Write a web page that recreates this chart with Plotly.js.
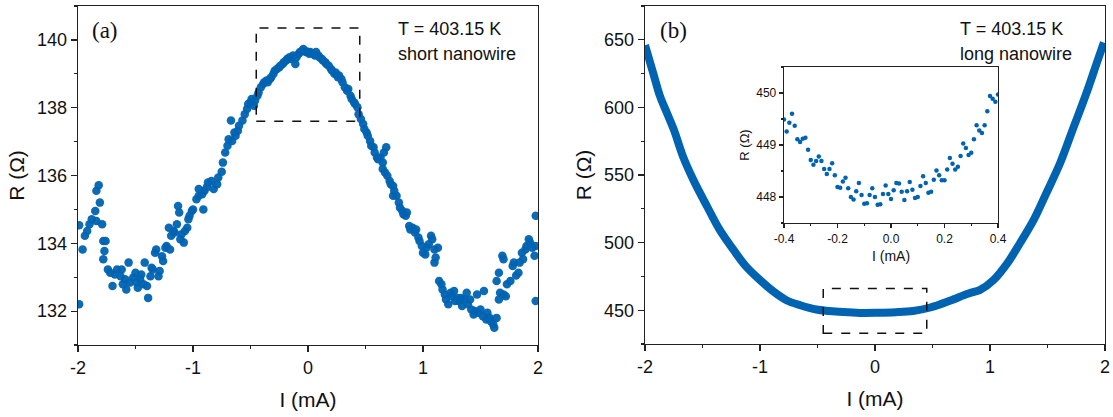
<!DOCTYPE html>
<html><head><meta charset="utf-8">
<script src="https://cdn.plot.ly/plotly-3.0.1.min.js"></script>
<style>html,body{margin:0;padding:0;background:#fff}#chart{width:1113px;height:417px}</style>
</head><body><div id="chart"></div>
<script>
// Panel (a): short nanowire, I (mA) vs R (Ohm)
const shortI = [-1.99,-1.99,-1.96,-1.94,-1.92,-1.90,-1.88,-1.85,-1.84,-1.84,-1.82,-1.81,-1.79,-1.78,-1.78,-1.77,-1.76,-1.74,-1.72,-1.70,-1.68,-1.66,-1.63,-1.62,-1.61,-1.59,-1.58,-1.56,-1.55,-1.52,-1.50,-1.49,-1.48,-1.46,-1.45,-1.43,-1.42,-1.40,-1.39,-1.37,-1.36,-1.35,-1.33,-1.32,-1.30,-1.29,-1.27,-1.26,-1.24,-1.23,-1.21,-1.20,-1.19,-1.17,-1.16,-1.14,-1.13,-1.12,-1.11,-1.10,-1.08,-1.07,-1.05,-1.04,-1.03,-1.01,-1.00,-0.97,-0.95,-0.95,-0.92,-0.91,-0.90,-0.88,-0.87,-0.84,-0.82,-0.79,-0.78,-0.75,
-0.74,-0.72,-0.70,-0.69,-0.67,-0.66,-0.64,-0.63,-0.61,-0.60,-0.57,-0.55,-0.53,-0.52,-0.50,-0.49,-0.47,-0.46,-0.44,-0.43,-0.41,-0.39,-0.38,-0.36,-0.35,-0.33,-0.32,-0.30,-0.29,-0.27,-0.25,-0.24,-0.22,-0.21,-0.19,-0.18,-0.16,-0.15,-0.13,-0.11,-0.10,-0.08,-0.07,-0.05,-0.04,-0.02,-0.01,
0.01,0.02,0.04,0.06,0.07,0.09,0.10,0.12,0.13,0.15,0.16,0.18,0.20,0.21,0.23,0.24,0.26,0.27,0.29,0.30,0.32,0.34,0.35,0.37,0.38,0.40,0.41,0.43,0.44,0.46,0.48,0.49,0.51,0.52,0.54,0.55,0.57,0.58,0.60,0.61,0.63,0.65,0.65,0.66,0.67,0.68,0.69,0.71,0.72,0.74,0.74,0.75,0.77,0.79,0.80,0.82,0.83,0.85,0.86,0.88,0.89,0.91,0.93,0.94,0.96,0.97,0.99,
1.00,1.02,1.03,1.05,1.07,1.08,1.10,1.10,1.11,1.13,1.14,1.16,1.17,1.19,1.20,1.22,1.24,1.25,1.27,1.28,1.30,1.31,1.33,1.34,1.36,1.38,1.39,1.41,1.42,1.44,1.45,1.47,1.48,1.50,1.52,1.53,1.55,1.56,1.58,1.59,1.61,1.62,1.64,1.64,1.66,1.66,1.67,1.69,1.70,1.70,1.72,1.73,1.76,1.78,1.79,1.81,1.83,1.84,1.86,1.87,1.89,1.90,1.92,1.93,1.95,1.97,1.98,1.98,1.98];
const shortR = [134.53,132.20,133.82,134.22,134.36,134.56,134.71,134.95,134.66,135.55,135.71,135.20,134.56,134.07,133.53,133.77,134.07,133.23,133.13,132.74,133.08,133.23,133.03,133.23,132.79,132.94,132.64,133.43,132.84,132.99,133.13,132.84,132.69,132.94,133.08,132.79,133.43,132.74,132.39,133.03,133.28,133.23,133.72,133.82,133.03,133.18,133.62,133.48,133.87,133.92,134.46,133.82,134.22,134.36,134.32,134.56,135.10,134.91,134.12,134.27,134.02,134.36,134.46,134.71,134.81,134.95,135.00,135.30,135.40,135.60,135.45,135.00,135.55,135.65,135.79,135.84,135.60,135.74,135.94,136.11,
136.38,136.68,136.88,137.07,137.62,137.02,137.27,137.17,137.32,137.47,137.62,137.81,137.96,138.11,138.16,138.26,138.06,138.21,138.35,138.45,138.60,138.70,138.75,138.80,138.75,138.85,138.90,139.00,139.09,139.14,139.19,139.24,139.29,139.34,139.39,139.44,139.49,139.44,139.54,139.29,139.49,139.59,139.64,139.68,139.73,139.64,139.66,
139.59,139.64,139.59,139.54,139.64,139.54,139.49,139.44,139.39,139.34,139.29,139.24,139.14,139.09,139.00,139.04,138.90,138.95,138.85,138.75,138.60,138.50,138.55,138.35,138.26,138.16,138.11,138.01,137.81,137.67,137.52,137.37,137.27,137.17,137.02,136.88,136.83,136.68,136.53,136.48,136.53,136.38,136.19,136.68,136.09,136.83,135.99,135.84,135.74,135.69,135.40,135.55,135.40,135.20,135.05,134.96,134.86,134.81,134.91,134.51,134.41,134.46,134.32,134.41,134.17,134.07,133.92,
133.72,133.67,133.87,133.97,134.22,134.12,133.82,133.43,133.58,133.87,132.89,132.79,132.64,132.49,132.34,132.20,132.54,132.44,132.59,132.30,132.39,132.30,132.39,132.15,132.34,132.54,132.20,132.34,132.05,131.90,132.00,132.49,131.95,132.05,131.85,132.59,131.75,131.95,131.80,131.70,131.61,131.51,131.80,132.89,133.13,132.34,132.54,133.63,133.53,132.49,132.44,132.79,132.89,133.33,133.43,133.05,133.13,133.43,133.72,133.53,133.82,133.92,134.12,134.02,133.87,133.63,133.92,134.81,132.30];

// Panel (b): long nanowire
const longI = [-2.00,-1.93,-1.87,-1.81,-1.75,-1.67,-1.58,-1.46,-1.35,-1.23,-1.12,-1.00,-0.88,-0.77,-0.65,-0.51,-0.40,-0.28,-0.13,0.02,0.18,0.33,0.48,0.65,0.80,0.86,0.91,1.03,1.15,1.26,1.38,1.49,1.61,1.72,1.84,1.93,1.99];
const longR = [646,625.8,608.4,596,583.7,563.8,546.5,526.7,509.4,494.6,482.2,472.3,463.6,457.4,453.7,450.5,449.4,448.6,448.0,448.1,448.5,449.4,452.0,457.0,462.0,463.6,464.9,472.3,484.7,499.5,516.8,536.6,558.9,583.7,610.9,633.2,648];

// Inset of panel (b)
const insetI = [-0.40,-0.39,-0.38,-0.37,-0.36,-0.35,-0.34,-0.33,-0.32,-0.31,-0.30,-0.29,-0.28,-0.27,-0.26,-0.25,-0.24,-0.23,-0.22,-0.21,-0.20,-0.19,-0.18,-0.17,-0.16,-0.15,-0.14,-0.13,-0.12,-0.11,-0.10,-0.09,-0.08,-0.07,-0.06,-0.05,-0.04,-0.03,-0.02,-0.01,0.00,0.01,0.02,0.03,0.04,0.05,0.06,0.07,0.08,0.09,0.10,0.11,0.12,0.13,0.14,0.15,0.16,0.17,0.18,0.19,0.20,0.21,0.22,0.23,0.24,0.25,0.26,0.27,0.28,0.29,0.30,0.31,0.32,0.33,0.34,0.35,0.36,0.37,0.38,0.39,0.40];
const insetR = [449.49,449.26,449.43,449.60,449.37,449.11,449.06,449.12,449.14,448.91,448.71,448.62,448.69,448.78,448.69,448.54,448.44,448.54,448.65,448.42,448.19,448.18,448.30,448.37,448.17,448.00,447.95,448.11,448.27,448.04,447.87,447.88,448.04,448.17,448.00,447.85,447.86,448.06,448.22,448.06,447.96,448.13,448.27,448.26,448.10,447.94,448.11,448.29,448.14,447.98,448.00,448.21,448.40,448.27,448.08,448.10,448.33,448.51,448.42,448.32,448.32,448.53,448.75,448.64,448.53,448.58,448.79,449.03,448.94,448.81,448.85,449.11,449.38,449.28,449.23,449.38,449.65,449.94,449.89,449.83,449.97];

// Tick labels (plain hyphen-minus as in the original figure)
const mainXTicks = [-2, -1, 0, 1, 2];
const mainXLabels = ['-2', '-1', '0', '1', '2'];
const insetXTicks = [-0.4, -0.2, 0.0, 0.2, 0.4];
const insetXLabels = ['-0.4', '-0.2', '0.0', '0.2', '0.4'];

// Dashed zoom boxes (data units)
const boxA_I = [-0.45, 0.45], boxA_R = [137.6, 140.35];
const boxB_I = [-0.45, 0.45], boxB_R = [433, 466];

const BLUE = 'rgb(0,99,178)';
const INK = '#222';
const SANS = 'Arial, "Liberation Sans", sans-serif';
const W = 1113, H = 417;
const px = v => v / W, py = v => 1 - v / H;

function mainAx(domain, range, dtick, mdtick, fs, ticklen, title, tfs, standoff, extra) {
  return Object.assign({
    domain, range, autorange: false, dtick, tick0: 0, ticks: 'outside', ticklen, tickwidth: 1.2, tickcolor: INK,
    minor: {ticks: 'outside', ticklen: Math.round(ticklen / 2), dtick: mdtick, tick0: 0, tickwidth: 1.2, tickcolor: INK, showgrid: false},
    showline: true, linecolor: INK, linewidth: 1.3, mirror: true, showgrid: false, zeroline: false,
    tickfont: {family: SANS, size: fs, color: '#111'},
    title: {text: title, font: {family: SANS, size: tfs, color: '#111'}, standoff}
  }, extra || {});
}
function mirrorAx(over, anchor, side, range, dtick, mdtick, ticklen) {
  return {
    overlaying: over, anchor, side, range, autorange: false, dtick, tick0: 0, ticks: 'inside', ticklen, tickwidth: 1.2, tickcolor: INK,
    minor: {ticks: 'inside', ticklen: Math.round(ticklen / 2), dtick: mdtick, tick0: 0, tickwidth: 1.2, tickcolor: INK, showgrid: false},
    showticklabels: false, showline: false, showgrid: false, zeroline: false
  };
}

const domAx = [px(78), px(538)], domAy = [py(345), py(6)];
const domBx = [px(645), px(1105)], domBy = [py(344), py(6)];
const domIx = [px(784), px(998)], domIy = [py(223), py(67)];

const traces = [
  {x: shortI, y: shortR, xaxis: 'x', yaxis: 'y', mode: 'markers', type: 'scatter',
   marker: {color: BLUE, size: 8.5, opacity: 0.95}, hoverinfo: 'skip', showlegend: false},
  {x: longI, y: longR, xaxis: 'x3', yaxis: 'y3', mode: 'lines', type: 'scatter',
   line: {color: BLUE, width: 8, shape: 'spline', smoothing: 1}, hoverinfo: 'skip', showlegend: false},
  {x: insetI, y: insetR, xaxis: 'x5', yaxis: 'y5', mode: 'markers', type: 'scatter',
   marker: {color: BLUE, size: 4.5}, hoverinfo: 'skip', showlegend: false}
];

const arrX = {tickmode: 'array', tickvals: mainXTicks, ticktext: mainXLabels};

const layout = {
  width: W, height: H, margin: {l: 0, r: 0, t: 0, b: 0},
  paper_bgcolor: '#fff', plot_bgcolor: '#fff', showlegend: false,
  xaxis: mainAx(domAx, [-2, 2], 1, 0.5, 18, 6, 'I (mA)', 21, 15, Object.assign({anchor: 'y'}, arrX)),
  yaxis: mainAx(domAy, [131, 141], 2, 1, 18, 6, 'R (Ω)', 21, 6, {anchor: 'x'}),
  xaxis2: mirrorAx('x', 'y', 'top', [-2, 2], 1, 0.5, 6),
  yaxis2: mirrorAx('y', 'x', 'right', [131, 141], 2, 1, 6),
  xaxis3: mainAx(domBx, [-2, 2], 1, 0.5, 18, 6, 'I (mA)', 21, 15, Object.assign({anchor: 'y3'}, arrX)),
  yaxis3: mainAx(domBy, [425, 675], 50, 25, 18, 6, 'R (Ω)', 21, 6, {anchor: 'x3'}),
  xaxis4: mirrorAx('x3', 'y3', 'top', [-2, 2], 1, 0.5, 6),
  yaxis4: mirrorAx('y3', 'x3', 'right', [425, 675], 50, 25, 6),
  xaxis5: mainAx(domIx, [-0.4, 0.4], 0.2, 0.1, 12, 4, 'I (mA)', 14, 6,
                 {anchor: 'y5', tickmode: 'array', tickvals: insetXTicks, ticktext: insetXLabels}),
  yaxis5: mainAx(domIy, [447.5, 450.5], 1, 0.5, 12, 4, 'R (Ω)', 13, 3, {anchor: 'x5'}),
  xaxis6: mirrorAx('x5', 'y5', 'top', [-0.4, 0.4], 0.2, 0.1, 4),
  yaxis6: mirrorAx('y5', 'x5', 'right', [447.5, 450.5], 1, 0.5, 4),
  shapes: [
    {type: 'rect', xref: 'x', yref: 'y', x0: boxA_I[0], x1: boxA_I[1], y0: boxA_R[0], y1: boxA_R[1],
     line: {color: '#111', width: 1.5, dash: 'dash'}},
    {type: 'rect', xref: 'x3', yref: 'y3', x0: boxB_I[0], x1: boxB_I[1], y0: boxB_R[0], y1: boxB_R[1],
     line: {color: '#111', width: 1.5, dash: 'dash'}}
  ],
  annotations: [
    {xref: 'paper', yref: 'paper', x: px(105), y: py(31), text: '(a)', showarrow: false,
     font: {family: '"Liberation Serif", "Times New Roman", serif', size: 23, color: '#111'}, xanchor: 'center', yanchor: 'middle'},
    {xref: 'paper', yref: 'paper', x: px(673), y: py(31), text: '(b)', showarrow: false,
     font: {family: '"Liberation Serif", "Times New Roman", serif', size: 23, color: '#111'}, xanchor: 'center', yanchor: 'middle'},
    {xref: 'paper', yref: 'paper', x: px(396), y: py(29), text: 'T = 403.15 K', showarrow: false,
     font: {family: SANS, size: 18, color: '#111'}, xanchor: 'left', yanchor: 'middle'},
    {xref: 'paper', yref: 'paper', x: px(396), y: py(54), text: 'short nanowire', showarrow: false,
     font: {family: SANS, size: 18, color: '#111'}, xanchor: 'left', yanchor: 'middle'},
    {xref: 'paper', yref: 'paper', x: px(958), y: py(29), text: 'T = 403.15 K', showarrow: false,
     font: {family: SANS, size: 18, color: '#111'}, xanchor: 'left', yanchor: 'middle'},
    {xref: 'paper', yref: 'paper', x: px(958), y: py(54), text: 'long nanowire', showarrow: false,
     font: {family: SANS, size: 18, color: '#111'}, xanchor: 'left', yanchor: 'middle'}
  ]
};

Plotly.newPlot('chart', traces, layout, {staticPlot: true, displayModeBar: false});
</script>
</body></html>
